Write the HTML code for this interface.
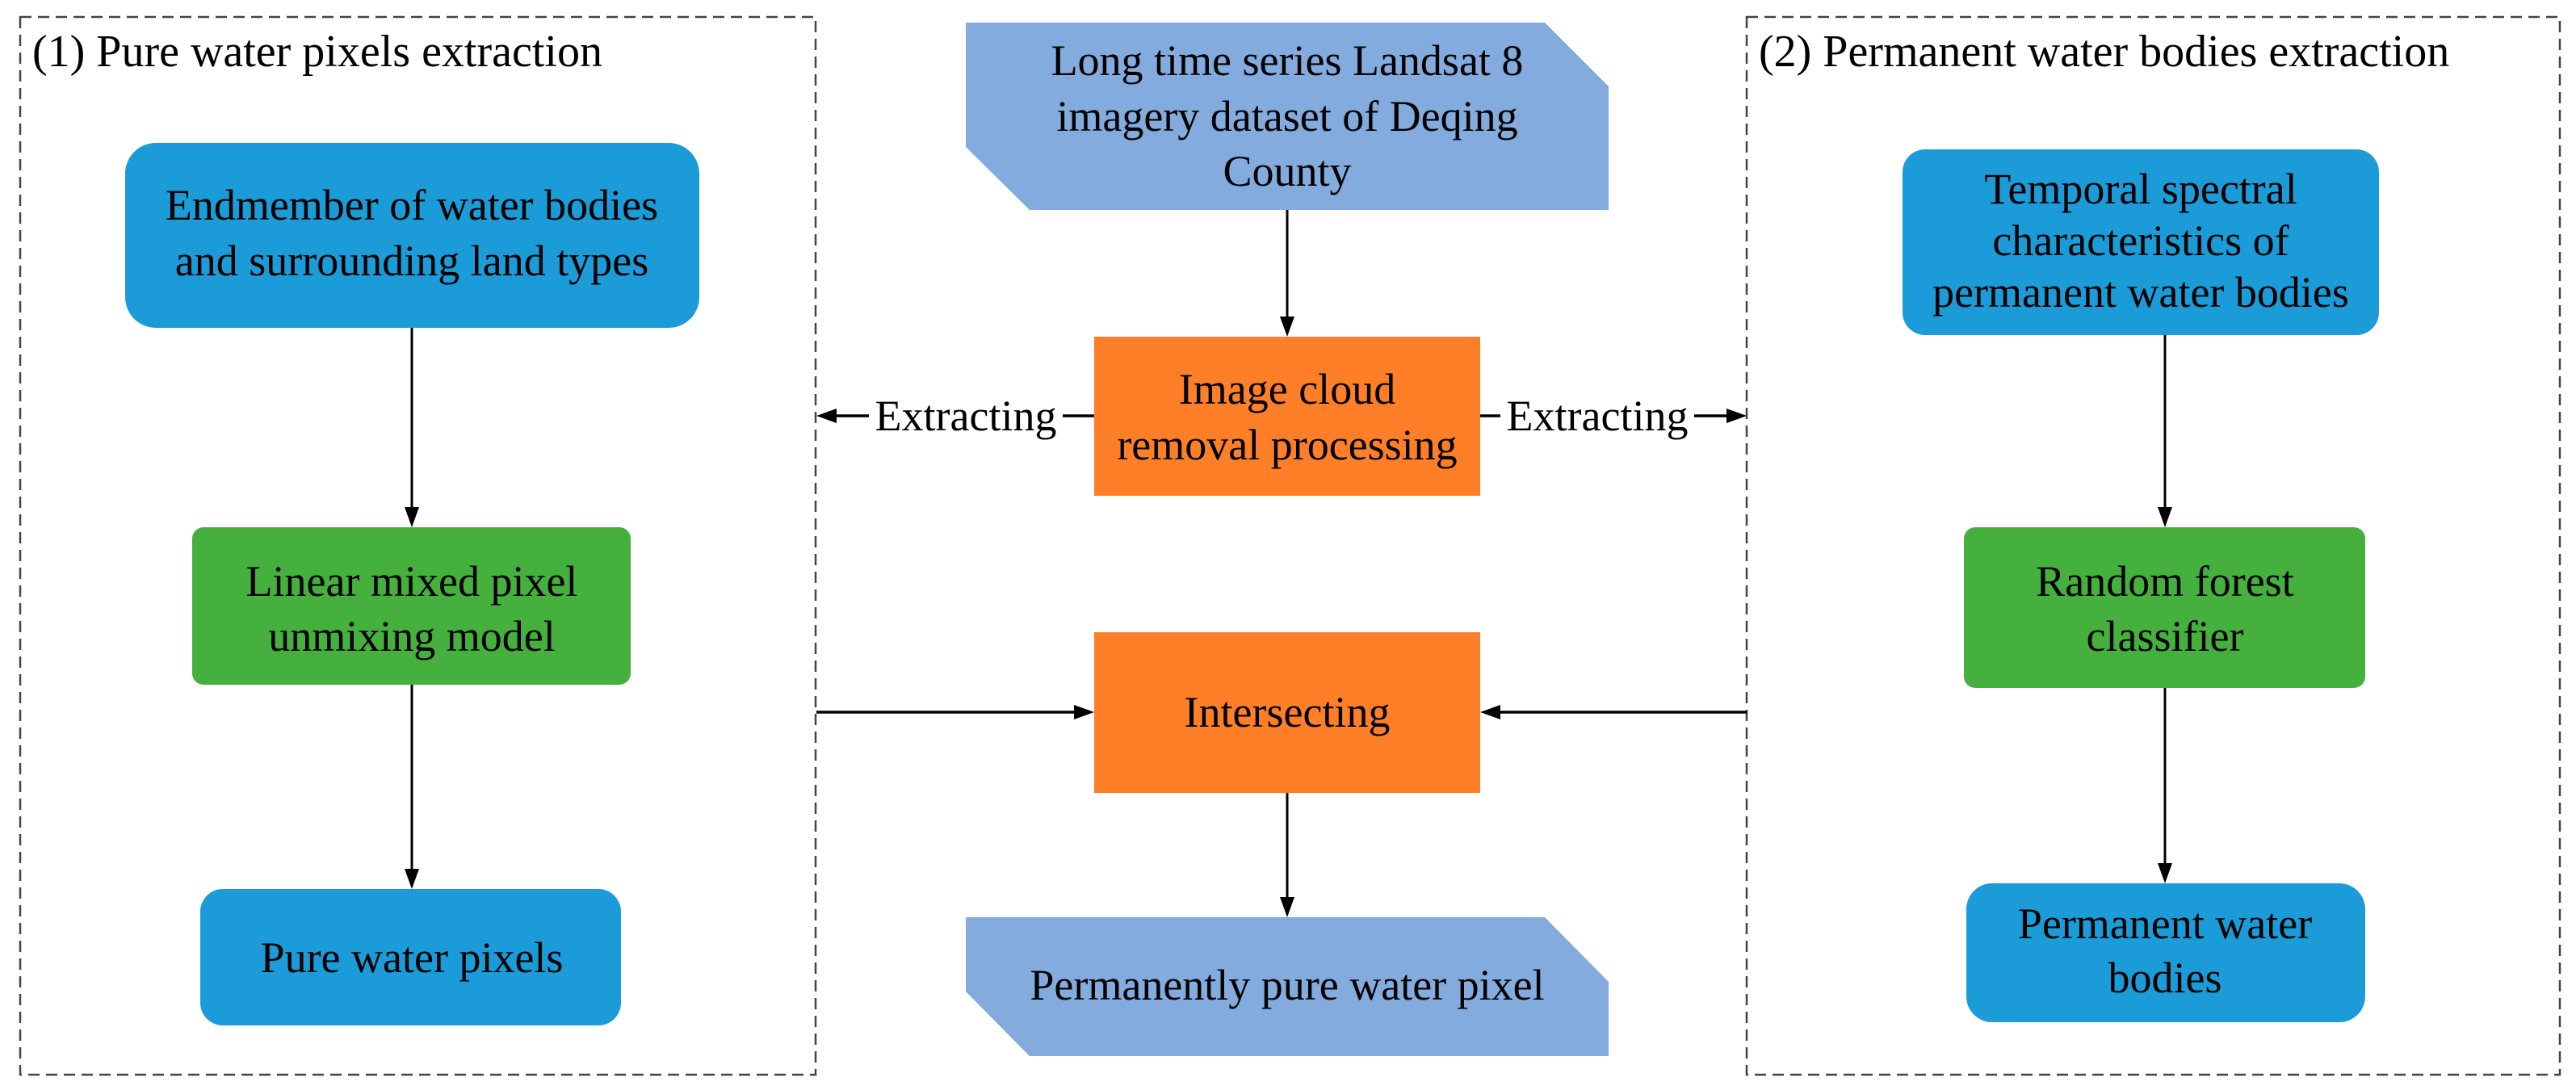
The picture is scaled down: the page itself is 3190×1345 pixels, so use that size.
<!DOCTYPE html>
<html><head><meta charset="utf-8"><style>
html,body{margin:0;padding:0;background:#fff;}
svg{display:block;}
svg text{font-family:"Liberation Serif","DejaVu Serif",serif !important;font-size:54px;fill:#000;}
</style></head><body>
<svg width="3190" height="1345" viewBox="0 0 3190 1345" xmlns="http://www.w3.org/2000/svg" font-family="'Liberation Serif', 'DejaVu Serif', serif">
<!-- dashed boxes -->
<rect x="25" y="21" width="985" height="1310" fill="none" stroke="#444" stroke-width="2.5" stroke-dasharray="14,8"/>
<rect x="2163" y="21" width="1007" height="1310" fill="none" stroke="#444" stroke-width="2.5" stroke-dasharray="14,8"/>
<text x="40" y="82" style="font-size:56px">(1) Pure water pixels extraction</text>
<text x="2178" y="82" style="font-size:56px">(2) Permanent water bodies extraction</text>

<!-- left column -->
<rect x="155" y="177" width="711" height="229" rx="38" fill="#1b9bd7"/>
<text x="510" y="272" text-anchor="middle">Endmember of water bodies</text>
<text x="510" y="341" text-anchor="middle">and surrounding land types</text>
<rect x="238" y="653" width="543" height="195" rx="14" fill="#45b03d"/>
<text x="510" y="738" text-anchor="middle">Linear mixed pixel</text>
<text x="510" y="806" text-anchor="middle">unmixing model</text>
<rect x="248" y="1101" width="521" height="169" rx="28" fill="#1b9bd7"/>
<text x="510" y="1204" text-anchor="middle">Pure water pixels</text>
<line x1="510" y1="406" x2="510" y2="630" stroke="#000" stroke-width="3"/>
<polygon points="510,653 501,628 519,628" fill="#000"/>
<line x1="510" y1="848" x2="510" y2="1078" stroke="#000" stroke-width="3"/>
<polygon points="510,1101 501,1076 519,1076" fill="#000"/>

<!-- center -->
<polygon points="1196,28 1913,28 1992,107 1992,260 1275,260 1196,182" fill="#83abde"/>
<text x="1594" y="93" text-anchor="middle">Long time series Landsat 8</text>
<text x="1594" y="162" text-anchor="middle">imagery dataset of Deqing</text>
<text x="1594" y="230" text-anchor="middle">County</text>
<line x1="1594" y1="260" x2="1594" y2="395" stroke="#000" stroke-width="3"/>
<polygon points="1594,417 1585,392 1603,392" fill="#000"/>
<rect x="1355" y="417" width="478" height="197" fill="#fe7f27"/>
<text x="1594" y="500" text-anchor="middle">Image cloud</text>
<text x="1594" y="569" text-anchor="middle">removal processing</text>

<line x1="1030" y1="515" x2="1355" y2="515" stroke="#000" stroke-width="3.5"/>
<polygon points="1011,515 1036,506 1036,524" fill="#000"/>
<rect x="1076" y="480" width="240" height="70" fill="#fff"/>
<text x="1196" y="533" text-anchor="middle">Extracting</text>
<line x1="1833" y1="515" x2="2143" y2="515" stroke="#000" stroke-width="3.5"/>
<polygon points="2163,515 2138,506 2138,524" fill="#000"/>
<rect x="1858" y="480" width="240" height="70" fill="#fff"/>
<text x="1978" y="533" text-anchor="middle">Extracting</text>

<rect x="1355" y="783" width="478" height="199" fill="#fe7f27"/>
<text x="1594" y="900" text-anchor="middle">Intersecting</text>
<line x1="1011" y1="882" x2="1335" y2="882" stroke="#000" stroke-width="3.5"/>
<polygon points="1355,882 1330,873 1330,891" fill="#000"/>
<line x1="1853" y1="882" x2="2163" y2="882" stroke="#000" stroke-width="3.5"/>
<polygon points="1833,882 1858,873 1858,891" fill="#000"/>
<line x1="1594" y1="982" x2="1594" y2="1114" stroke="#000" stroke-width="3"/>
<polygon points="1594,1136 1585,1111 1603,1111" fill="#000"/>

<polygon points="1196,1136 1913,1136 1992,1216 1992,1308 1275,1308 1196,1228" fill="#83abde"/>
<text x="1594" y="1238" text-anchor="middle">Permanently pure water pixel</text>

<!-- right column -->
<rect x="2356" y="185" width="590" height="230" rx="28" fill="#1b9bd7"/>
<text x="2651" y="252" text-anchor="middle">Temporal spectral</text>
<text x="2651" y="316" text-anchor="middle">characteristics of</text>
<text x="2651" y="380" text-anchor="middle">permanent water bodies</text>
<rect x="2432" y="653" width="497" height="199" rx="14" fill="#45b03d"/>
<text x="2681" y="738" text-anchor="middle">Random forest</text>
<text x="2681" y="806" text-anchor="middle">classifier</text>
<rect x="2435" y="1094" width="494" height="172" rx="32" fill="#1b9bd7"/>
<text x="2681" y="1162" text-anchor="middle">Permanent water</text>
<text x="2681" y="1229" text-anchor="middle">bodies</text>
<line x1="2681" y1="415" x2="2681" y2="631" stroke="#000" stroke-width="3"/>
<polygon points="2681,653 2672,628 2690,628" fill="#000"/>
<line x1="2681" y1="852" x2="2681" y2="1072" stroke="#000" stroke-width="3"/>
<polygon points="2681,1094 2672,1069 2690,1069" fill="#000"/>
</svg>
</body></html>
